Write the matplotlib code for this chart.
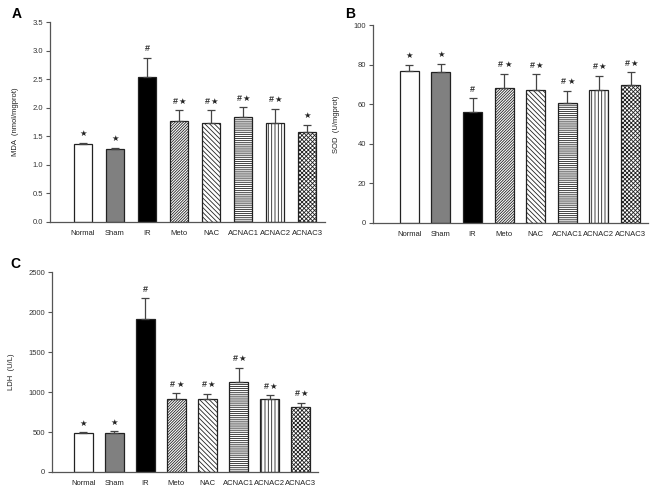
import matplotlib
matplotlib.use("Agg")
import matplotlib.pyplot as plt
import numpy as np

plt.rcParams['font.family'] = ['Liberation Sans', 'DejaVu Sans']
plt.rcParams['hatch.linewidth'] = 0.6

groups = ["Normal", "Sham", "IR", "Meto", "NAC", "ACNAC1", "ACNAC2", "ACNAC3"]

mda_mean = [1.365, 1.27, 2.54, 1.76, 1.73, 1.84, 1.74, 1.575]
mda_err = [0.02, 0.03, 0.34, 0.20, 0.23, 0.17, 0.24, 0.13]
mda_marks = ["*", "*", "#", "# *", "# *", "# *", "# *", "*"]

sod_mean = [76.8, 76.3, 55.9, 68.1, 67.3, 60.7, 67.2, 69.6]
sod_err = [3.2, 4.2, 7.1, 7.4, 7.9, 6.0, 7.1, 6.5]
sod_marks = ["*", "*", "#", "# *", "# *", "# *", "# *", "# *"]

ldh_mean = [486, 494, 1915, 918, 918, 1130, 918, 818]
ldh_err = [12, 15, 262, 66, 60, 178, 45, 50]
ldh_marks = ["*", "*", "#", "# *", "# *", "# *", "# *", "# *"]

facecolors = ["white", "#808080", "black", "white", "white", "white", "white", "white"]
hatches = [None, None, None, "/" * 12, "\\" * 7, "-" * 8, "|" * 5, "x" * 8]

fig = plt.figure(figsize=(6.69, 4.93), dpi=100)

def put(ax, x, y, dx, s):
    if s == "#":
        ax.annotate("#", (x, y), xytext=(dx, 6.5), textcoords="offset points",
                    ha="center", va="center", fontsize=6.5, fontweight="bold",
                    color="#333333", family="Liberation Sans")
    else:
        ax.annotate("\u2605", (x, y), xytext=(dx, 6.5), textcoords="offset points",
                    ha="center", va="center", fontsize=6, color="#222222",
                    family="DejaVu Sans")

def mark(ax, x, y, m):
    if m == "# *":
        put(ax, x, y, -2.6, "#")
        put(ax, x, y, 2.6, "*")
    else:
        put(ax, x, y, 0, m)

def panel(rect, means, errs, marks, ylim, yticks, yfmt, ylabel, xlim, width):
    ax = fig.add_axes(rect)
    x = np.arange(len(groups))
    for i in range(len(groups)):
        ax.bar(x[i], means[i], width=width, color=facecolors[i], edgecolor="#222222",
               linewidth=0.9, hatch=hatches[i], zorder=2)
        ax.errorbar(x[i], means[i], yerr=[[0], [errs[i]]], fmt="none", ecolor="#444444",
                    elinewidth=0.9, capsize=3, capthick=0.9, zorder=3)
        mark(ax, x[i], means[i] + errs[i], marks[i])
    ax.set_xlim(*xlim)
    ax.set_ylim(*ylim)
    ax.set_yticks(yticks)
    ax.set_yticklabels([yfmt.format(t) for t in yticks], fontsize=5.5, color="#333333")
    ax.set_xticks(x)
    ax.set_xticklabels(groups, fontsize=5.5, color="#222222")
    ax.tick_params(axis="x", length=0, pad=6)
    ax.tick_params(axis="y", length=3, width=0.8, color="#555555", pad=2)
    for s in ["top", "right"]:
        ax.spines[s].set_visible(False)
    for s in ["left", "bottom"]:
        ax.spines[s].set_color("#555555")
        ax.spines[s].set_linewidth(0.9)
    ax.set_ylabel(ylabel, fontsize=5.5, color="#222222", labelpad=10)
    return ax

panel([0.0747, 0.55, 0.411, 0.405], mda_mean, mda_err, mda_marks, (0, 3.5),
      [0, 0.5, 1.0, 1.5, 2.0, 2.5, 3.0, 3.5], "{:.1f}", "MDA  (nmol/mgprot)",
      (-1.03, 7.56), 0.59)
panel([0.558, 0.548, 0.411, 0.401], sod_mean, sod_err, sod_marks, (0, 100),
      [0, 20, 40, 60, 80, 100], "{:d}", "SOD  (U/mgprot)",
      (-1.14, 7.56), 0.6)
panel([0.078, 0.0426, 0.397, 0.405], ldh_mean, ldh_err, ldh_marks, (0, 2500),
      [0, 500, 1000, 1500, 2000, 2500], "{:d}", "LDH  (U/L)",
      (-1.0, 7.55), 0.6)

fig.text(12/669, 1 - 14/493, "A", fontsize=10, fontweight="bold", va="center")
fig.text(345/669, 1 - 14/493, "B", fontsize=10, fontweight="bold", va="center")
fig.text(10/669, 1 - 264/493, "C", fontsize=10, fontweight="bold", va="center")

fig.savefig("out.png", dpi=100)
